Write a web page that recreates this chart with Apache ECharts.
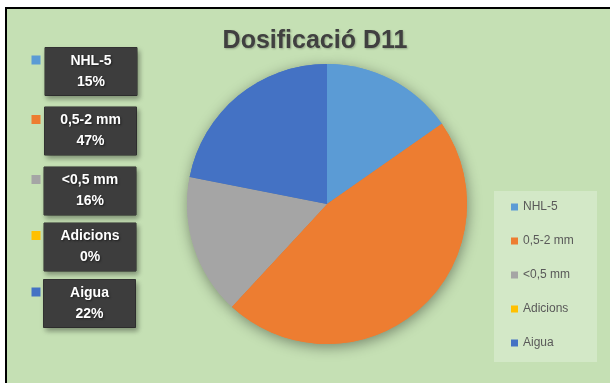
<!DOCTYPE html>
<html>
<head>
<meta charset="utf-8">
<script src="https://cdn.jsdelivr.net/npm/echarts@6/dist/echarts.min.js"></script>
<style>
  html, body { margin: 0; padding: 0; background: #ffffff; width: 610px; height: 383px; overflow: hidden; }
  #frame { position: absolute; left: 5px; top: 7px; width: 620px; height: 390px;
           border-left: 2px solid #000; border-top: 2px solid #000; background: #c5e0b4; }
  #chart { position: absolute; left: 0; top: 0; width: 610px; height: 383px; }
</style>
</head>
<body>
<div id="frame"></div>
<div id="chart"></div>
<script>
// ---- data ----
const categories = ['NHL-5', '0,5-2 mm', '<0,5 mm', 'Adicions', 'Aigua'];
const values = [15.3, 46.6, 16.2, 0, 21.9];
const titleText = 'Dosificació D11';

// ---- styles / layout ----
const colors = ['#5B9BD5', '#ED7D31', '#A5A5A5', '#FFC000', '#4472C4'];
const boxCenters = [[91, 71.5], [90.5, 131], [90, 191], [90, 247], [89.5, 303.5]];
const squareX = 36;

const chart = echarts.init(document.getElementById('chart'), null, { renderer: 'canvas' });

const mainData = categories.map((c, i) => ({ name: c, value: values[i], itemStyle: { color: colors[i] } }));
const shadowData = categories.map((c, i) => ({
  name: c, value: values[i],
  itemStyle: { color: colors[i] },
  label: { rich: { sq: { width: 9, height: 9, backgroundColor: colors[i] } } }
}));

chart.setOption({
  backgroundColor: 'transparent',
  animation: false,
  title: {
    text: titleText,
    left: 310, top: 24, textAlign: 'center',
    textStyle: {
      fontFamily: 'Liberation Sans', fontWeight: 'bold', fontSize: 25, color: '#404040',
      textShadowColor: 'rgba(0,0,0,0.25)', textShadowBlur: 2, textShadowOffsetX: 1, textShadowOffsetY: 1
    }
  },
  graphic: [{
    type: 'rect', left: 494, top: 191, z: 0,
    shape: { width: 103, height: 171 },
    style: { fill: 'rgba(255,255,255,0.25)' }
  }],
  legend: {
    orient: 'vertical',
    left: 511, top: 200,
    padding: 0,
    data: categories,
    icon: 'rect',
    itemWidth: 7, itemHeight: 7,
    itemGap: 20,
    textStyle: { fontFamily: 'Liberation Sans', fontSize: 12, color: '#595959', lineHeight: 14 }
  },
  series: [
    {
      type: 'pie', name: 'shadow', z: 1,
      center: [327, 204], radius: 140,
      startAngle: 90, clockwise: true,
      avoidLabelOverlap: false,
      silent: true,
      itemStyle: { shadowBlur: 14, shadowColor: 'rgba(0,0,0,0.4)', shadowOffsetX: 1, shadowOffsetY: 3 },
      label: { show: true, position: 'outside', formatter: '{sq|}' },
      labelLine: { show: false },
      labelLayout: function (p) {
        const c = boxCenters[p.dataIndex];
        return { x: squareX, y: c[1] - 11.5, align: 'center', verticalAlign: 'middle' };
      },
      data: shadowData
    },
    {
      type: 'pie', name: 'main', z: 2,
      center: [327, 204], radius: 140,
      startAngle: 90, clockwise: true,
      avoidLabelOverlap: false,
      silent: true,
      itemStyle: { borderWidth: 0 },
      label: {
        show: true, position: 'outside',
        formatter: function (p) { return p.name + '\n' + Math.round(p.percent) + '%'; },
        width: 80, align: 'center',
        fontFamily: 'Liberation Sans', fontWeight: 'bold', fontSize: 14, color: '#ffffff',
        lineHeight: 21,
        padding: [3, 6],
        backgroundColor: '#3d3d3d',
        borderColor: '#2a2a2a', borderWidth: 0.5,
        shadowColor: 'rgba(0,0,0,0.35)', shadowBlur: 5, shadowOffsetX: 2, shadowOffsetY: 3,
        textShadowColor: 'rgba(0,0,0,0.5)', textShadowBlur: 2, textShadowOffsetX: 1, textShadowOffsetY: 1
      },
      labelLine: { show: false },
      labelLayout: function (p) {
        const c = boxCenters[p.dataIndex];
        return { x: c[0], y: c[1], align: 'center', verticalAlign: 'middle' };
      },
      data: mainData
    }
  ]
});
</script>
</body>
</html>
